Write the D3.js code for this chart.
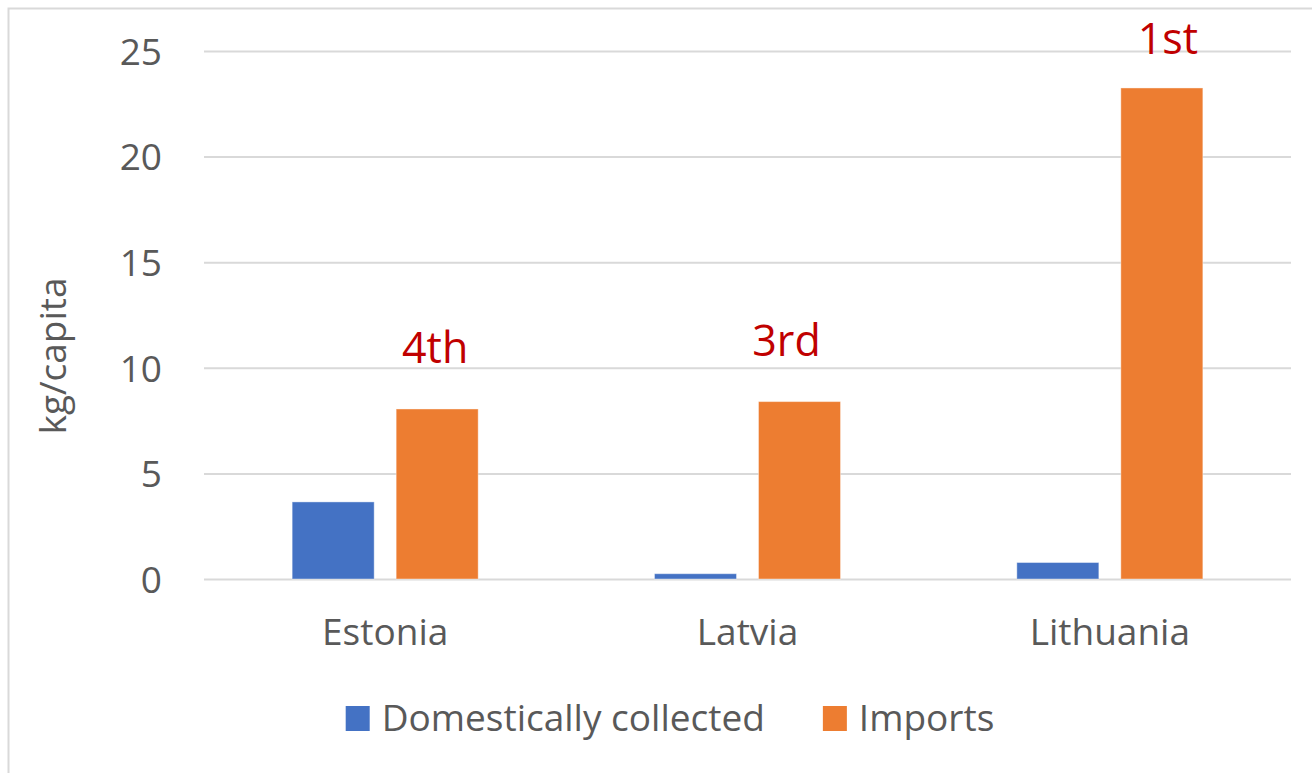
<!DOCTYPE html>
<html>
<head>
<meta charset="utf-8">
<script src="https://cdn.jsdelivr.net/npm/d3@7"></script>
<style>
  body { margin: 0; background: #fff; }
  text { font-family: "Open Sans", "Noto Sans", sans-serif; }
</style>
</head>
<body>
<svg id="chart" width="1312" height="773"></svg>
<script>
// data
const categories = ['Estonia', 'Latvia', 'Lithuania']
const seriesNames = ['Domestically collected', 'Imports']
const domestic = [3.65, 0.25, 0.78]
const imports = [8.05, 8.4, 23.25]
const ranks = ['4th', '3rd', '1st']
const yTicks = [0, 5, 10, 15, 20, 25]

const colours = ['#4472C4', '#ED7D31']
const textGrey = '#595959'
const gridGrey = '#D9D9D9'

const W = 1312
const H = 773
const margin = { left: 204, right: 21, top: 51, bottom: 194 }

// hand placed text boxes in the original, nudged off the bar centre a little
const rankNudge = [-2, -13, 6]

const svg = d3.select('#chart')

// chart frame (runs off the picture to the right and bottom)
svg.append('rect')
  .attr('x', 8.5)
  .attr('y', 8.5)
  .attr('width', W + 40)
  .attr('height', H + 40)
  .attr('fill', 'none')
  .attr('stroke', gridGrey)
  .attr('stroke-width', 2)

const x0 = d3.scaleBand()
  .domain(categories)
  .range([margin.left, W - margin.right])

const x1 = d3.scaleBand()
  .domain(seriesNames)
  .range([0, x0.bandwidth()])
  .paddingInner(0.2115)
  .paddingOuter(0.8476)

const y = d3.scaleLinear()
  .domain([0, 25])
  .range([H - margin.bottom, margin.top])

// y axis with gridlines
const gY = svg.append('g')
  .attr('transform', `translate(${margin.left},0)`)
  .call(d3.axisLeft(y)
    .tickValues(yTicks)
    .tickSize(-(W - margin.left - margin.right))
    .tickPadding(42))

gY.select('.domain').remove()
gY.selectAll('.tick line')
  .attr('stroke', gridGrey)
  .attr('stroke-width', 2)
gY.selectAll('.tick text')
  .attr('fill', textGrey)
  .style('font-size', '37px')
  .attr('dy', '0.36em')

// bars
const rows = categories.map((c, i) => ({ cat: c, vals: [domestic[i], imports[i]] }))

const gBars = svg.append('g')
rows.forEach(r => {
  r.vals.forEach((v, j) => {
    gBars.append('rect')
      .attr('x', x0(r.cat) + x1(seriesNames[j]))
      .attr('y', y(v))
      .attr('width', x1.bandwidth())
      .attr('height', y(0) - y(v))
      .attr('fill', colours[j])
      .attr('stroke', '#fff')
      .attr('stroke-opacity', 0.4)
      .attr('stroke-width', 1)
  })
})

// category labels
svg.append('g').selectAll('text')
  .data(categories)
  .join('text')
  .attr('x', d => x0(d) + x0.bandwidth() / 2)
  .attr('y', y(0) + 66)
  .attr('text-anchor', 'middle')
  .attr('fill', textGrey)
  .style('font-size', '37px')
  .text(d => d)

// rank annotations above the import bars
svg.append('g').selectAll('text')
  .data(ranks)
  .join('text')
  .attr('x', (d, i) => x0(categories[i]) + x1(seriesNames[1]) + x1.bandwidth() / 2 + rankNudge[i])
  .attr('y', (d, i) => Math.max(y(imports[i]) - 46, 54))
  .attr('text-anchor', 'middle')
  .attr('fill', '#C00000')
  .style('font-size', '43px')
  .text(d => d)

// y axis title
svg.append('text')
  .attr('transform', `translate(66, ${(y(0) + y(25)) / 2 + 41}) rotate(-90)`)
  .attr('text-anchor', 'middle')
  .attr('fill', textGrey)
  .style('font-size', '37px')
  .text('kg/capita')

// legend
const gLegend = svg.append('g')
const sw = 24
const items = seriesNames.map((s, i) => {
  const g = gLegend.append('g')
  g.append('rect')
    .attr('width', sw)
    .attr('height', 25)
    .attr('y', -25)
    .attr('fill', colours[i])
  const t = g.append('text')
    .attr('x', sw + 12)
    .attr('fill', textGrey)
    .style('font-size', '37px')
    .text(s)
  return { g, w: sw + 12 + t.node().getComputedTextLength() }
})
const legendGap = 58
const legendW = d3.sum(items, d => d.w) + legendGap * (items.length - 1)
let lx = 670 - legendW / 2
items.forEach(it => {
  it.g.attr('transform', `translate(${lx}, 731)`)
  lx += it.w + legendGap
})
</script>
</body>
</html>
